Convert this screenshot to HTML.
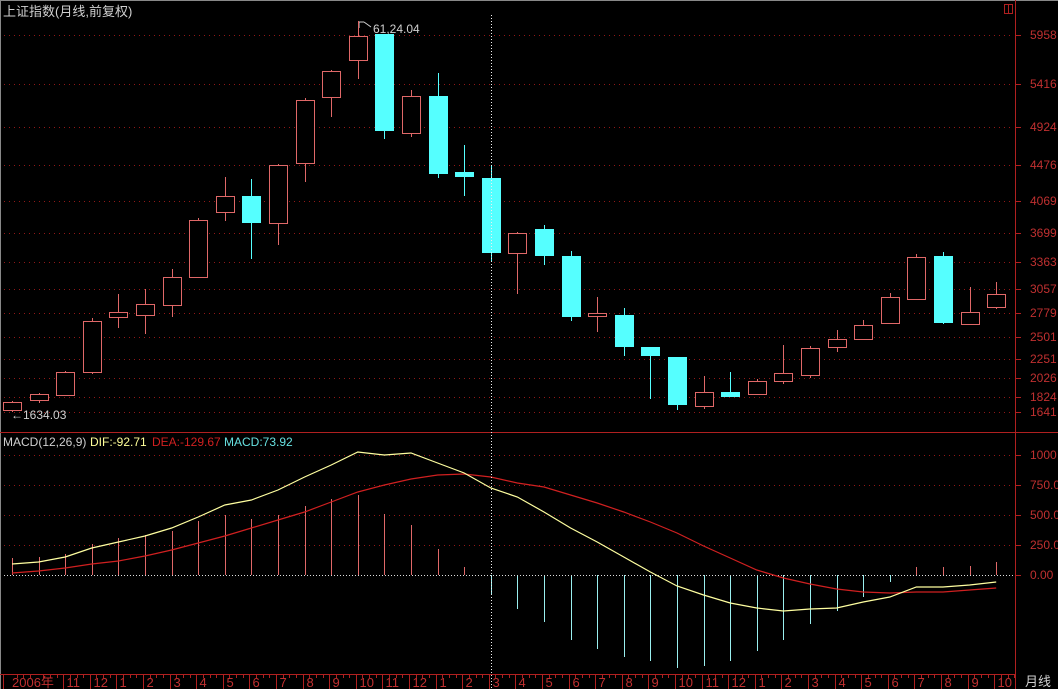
<!DOCTYPE html>
<html><head><meta charset="utf-8">
<style>
html,body{margin:0;padding:0;background:#000;}
body{width:1058px;height:689px;overflow:hidden;position:relative;font-family:"Liberation Sans","Noto Sans CJK SC",sans-serif;}
svg{position:absolute;left:0;top:0;}
text{font-family:"Liberation Sans","Noto Sans CJK SC",sans-serif;}
</style></head>
<body>
<svg id="s" width="1058" height="689" xmlns="http://www.w3.org/2000/svg">
<rect x="0" y="0" width="1058" height="689" fill="#000"/>
<line x1="0" y1="0.5" x2="1058" y2="0.5" stroke="#888"/>
<line x1="0.5" y1="0" x2="0.5" y2="689" stroke="#888"/>
<g id="grid"></g>
<line x1="1015.5" y1="0" x2="1015.5" y2="689" stroke="#b02020"/>
<line x1="0" y1="432.5" x2="1058" y2="432.5" stroke="#b02020"/>
<line x1="0" y1="674.5" x2="1015" y2="674.5" stroke="#b02020"/>
<rect x="1004.5" y="4.5" width="8" height="9" fill="none" stroke="#b02020"/>
<line x1="1008.5" y1="4" x2="1008.5" y2="14" stroke="#b02020"/>
<g font-size="12" fill="#c03030" id="ylab">
<text x="1030" y="39">5958</text>
<text x="1030" y="88">5416</text>
<text x="1030" y="131">4924</text>
<text x="1030" y="169">4476</text>
<text x="1030" y="205">4069</text>
<text x="1030" y="237">3699</text>
<text x="1030" y="266">3363</text>
<text x="1030" y="293">3057</text>
<text x="1030" y="317">2779</text>
<text x="1030" y="341">2501</text>
<text x="1030" y="363">2251</text>
<text x="1030" y="382">2026</text>
<text x="1030" y="401">1824</text>
<text x="1030" y="416">1641</text>
<text x="1030" y="459">1000</text>
<text x="1030" y="489">750.0</text>
<text x="1030" y="519">500.0</text>
<text x="1030" y="549">250.0</text>
<text x="1030" y="579">0.00</text>
</g>
<text x="3" y="16" font-size="13" fill="#d0d0d0">上证指数(月线,前复权)</text>
<text x="373" y="33" font-size="12" fill="#d0d0d0">61,24.04</text>
<path d="M359 22 L359 28 M359 22 L364 22 M364 22 L371 27" stroke="#d0d0d0" fill="none"/>
<text x="11" y="419" font-size="12" fill="#d0d0d0">←1634.03</text>
<g font-size="12">
<text x="3" y="446" fill="#d0d0d0">MACD(12,26,9)</text>
<text x="90" y="446" fill="#ffff99">DIF:-92.71</text>
<text x="152" y="446" fill="#d02020">DEA:-129.67</text>
<text x="224" y="446" fill="#66e0e0">MACD:73.92</text>
</g>
<g id="c"></g>
<g font-size="13" fill="#c03030" id="xlab"></g>
<text x="1025" y="686" font-size="13" fill="#d0d0d0">月线</text>
</svg>
<script>
var NS="http://www.w3.org/2000/svg";
function el(p,t,a){var e=document.createElementNS(NS,t);for(var k in a)e.setAttribute(k,a[k]);p.appendChild(e);return e;}
var g=document.getElementById('grid'),c=document.getElementById('c');
[35,84,127,165,201,233,262,289,313,337,359,378,397,412,455,485,515,545].forEach(function(y){
 el(g,'line',{x1:4,y1:y+.5,x2:1013,y2:y+.5,stroke:'#901818','stroke-dasharray':'1 4'});
 el(g,'line',{x1:1015,y1:y+.5,x2:1021,y2:y+.5,stroke:'#b02020'});
});
el(g,'line',{x1:1015,y1:575.5,x2:1021,y2:575.5,stroke:'#b02020'});
function X(i){return 12+26.6*i;}
// type, bodyTop, bodyBot, high, low
var K=[['r',402,410,401,412],['r',394,400,393,403],['r',372,395,371,396],['r',321,372,318,374],['r',312,317,294,328],
['r',304,315,289,334],['r',277,305,269,317],['r',220,277,218,278],['r',196,212,177,221],['c',196,223,179,259],
['r',165,223,164,245],['r',100,163,98,182],['r',71,97,70,117],['r',36,60,21,79],['c',34,131,34,139],
['r',96,133,90,137],['c',96,174,73,178],['c',172,177,145,196],['c',178,253,165,262],['r',233,253,232,294],
['c',229,256,225,265],['c',256,317,251,321],['r',313,316,297,332],['c',315,347,308,356],['c',347,356,347,399],
['c',357,405,357,410],['r',392,406,376,409],['c',392,397,372,397],['r',381,394,379,395],['r',373,381,345,384],
['r',348,375,346,378],['r',339,347,330,352],['r',325,339,320,340],['r',297,323,293,324],['r',257,299,254,300],
['c',256,323,252,324],['r',312,324,287,325],['r',294,307,282,309]];
var RED='#e06868',CY='#55ffff';
K.forEach(function(k,i){var x=Math.round(X(i))+.5;var col=k[0]=='r'?RED:CY;
 el(c,'line',{x1:x,y1:k[3],x2:x,y2:k[4],stroke:col});
 if(k[0]=='r'){var h=Math.max(k[2]-k[1],2);el(c,'rect',{x:x-9,y:k[1]+.5,width:18,height:h,fill:'#000',stroke:col});}
 else{el(c,'rect',{x:x-9.5,y:k[1],width:19,height:Math.max(k[2]-k[1],3),fill:col});}
});
// MACD bars
var B=[558,557,554,544,538,535,531,521,515,519,515,506,499,495,514,525,549,567,594,609,622,640,649,657,661,668,666,661,651,640,624,611,597,582,567,567,566,562];
B.forEach(function(y,i){var x=Math.round(X(i))+.5;el(c,'line',{x1:x,y1:575,x2:x,y2:y,stroke:y<575?RED:'#99eeee'});});
el(c,'line',{x1:4,y1:575.5,x2:1013,y2:575.5,stroke:'#ddd','stroke-dasharray':'1 2'});
var DIF=[564,562,557,548,542,536,528,517,505,500,490,477,465,452,455,453,463,473,488,497,512,528,542,557,572,586,595,603,608,611,609,608,602,597,587,587,585,582];
var DEA=[573,571,568,564,561,556,550,543,536,528,520,512,502,492,485,479,475,474,477,483,487,495,503,512,522,533,546,558,570,578,584,589,592,593,592,592,590,588];
function pl(a,col){el(c,'polyline',{points:a.map(function(y,i){return X(i).toFixed(1)+','+y;}).join(' '),fill:'none',stroke:col,'stroke-width':1.2});}
pl(DEA,'#d02020');pl(DIF,'#ffffa0');
// cursor
el(c,'line',{x1:491.5,y1:15,x2:491.5,y2:689,stroke:'#eee','stroke-dasharray':'1 2'});
// x axis
var xl=document.getElementById('xlab');
var labs=['','','11','12','1','2','3','4','5','6','7','8','9','10','11','12','1','2','3','4','5','6','7','8','9','10','11','12','1','2','3','4','5','6','7','8','9','10'];
for(var i=0;i<38;i++){var tx=Math.round(X(i)-2)+.5;
 if(i>=2){el(xl,'line',{x1:tx,y1:674,x2:tx,y2:689,stroke:'#b02020'});var t=el(xl,'text',{x:tx+3,y:687});t.textContent=labs[i];}
 for(var j=1;j<4;j++){var sx=Math.round(X(i)-2+j*6.65)+.5;el(xl,'line',{x1:sx,y1:674,x2:sx,y2:678,stroke:'#b02020'});}
}
var t0=el(xl,'text',{x:12,y:687});t0.textContent='2006年';
el(xl,'line',{x1:3.5,y1:674,x2:3.5,y2:689,stroke:'#b02020'});
</script>
</body></html>
